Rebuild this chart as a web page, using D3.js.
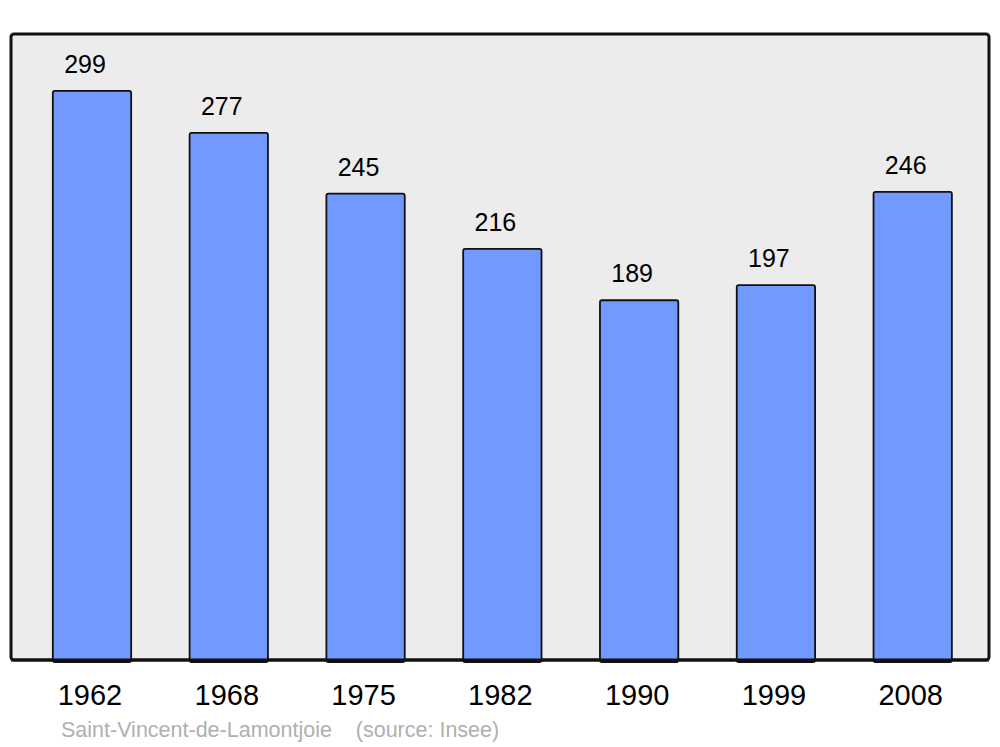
<!DOCTYPE html>
<html>
<head>
<meta charset="utf-8">
<script src="https://cdn.jsdelivr.net/npm/d3@7"></script>
<style>
  body { margin: 0; background: #fff; }
  text { font-family: "Liberation Sans", Arial, sans-serif; }
</style>
</head>
<body>
<svg id="chart" width="1000" height="747"></svg>
<script>
// datos
var annees = ["1962", "1968", "1975", "1982", "1990", "1999", "2008"];
var population = [299, 277, 245, 216, 189, 197, 246];
var legende = "Saint-Vincent-de-Lamontjoie    (source: Insee)";

var svg = d3.select("#chart");

// cadre gris
var cadre = { x0: 11, y0: 34, x1: 989, y1: 660 };

var x = d3.scaleBand()
    .domain(annees)
    .range([23.6, 981.1])
    .paddingInner(0.42)
    .paddingOuter(0.21);

var y = d3.scaleLinear()
    .domain([0, d3.max(population) * 1.1])
    .range([cadre.y1, cadre.y0]);

svg.append("rect")
    .attr("x", cadre.x0)
    .attr("y", cadre.y0)
    .attr("width", cadre.x1 - cadre.x0)
    .attr("height", cadre.y1 - cadre.y0)
    .attr("rx", 3)
    .attr("fill", "#ececec")
    .attr("stroke", "#111")
    .attr("stroke-width", 3);

var datos = annees.map(function (a, i) { return { annee: a, valeur: population[i] }; });

// barres
svg.selectAll(".barre")
    .data(datos)
    .join("rect")
    .attr("class", "barre")
    .attr("x", function (d) { return x(d.annee) + 0.5; })
    .attr("y", function (d) { return y(d.valeur); })
    .attr("width", x.bandwidth() - 1)
    .attr("height", function (d) { return cadre.y1 - y(d.valeur) + 2; })
    .attr("rx", 2)
    .attr("fill", "#7299ff")
    .attr("stroke", "#111")
    .attr("stroke-width", 1.8);

// re-dessiner la ligne du bas du cadre par-dessus
svg.append("line")
    .attr("x1", cadre.x0)
    .attr("x2", cadre.x1)
    .attr("y1", cadre.y1)
    .attr("y2", cadre.y1)
    .attr("stroke", "#111")
    .attr("stroke-width", 3);

// valeurs au-dessus des barres
svg.selectAll(".valeur")
    .data(datos)
    .join("text")
    .attr("class", "valeur")
    .attr("x", function (d) { return x(d.annee) + x.bandwidth() / 2 - 7; })
    .attr("y", function (d) { return y(d.valeur) - 18; })
    .attr("text-anchor", "middle")
    .style("font-size", "25px")
    .attr("fill", "#000")
    .text(function (d) { return d.valeur; });

// annees
svg.selectAll(".annee")
    .data(datos)
    .join("text")
    .attr("class", "annee")
    .attr("x", function (d) { return x(d.annee) + x.bandwidth() / 2 - 2; })
    .attr("y", 705)
    .attr("text-anchor", "middle")
    .style("font-size", "29px")
    .attr("fill", "#000")
    .text(function (d) { return d.annee; });

svg.append("text")
    .attr("x", 61)
    .attr("y", 737)
    .style("font-size", "21.5px")
    .style("white-space", "pre")
    .attr("fill", "#b0b0b0")
    .text(legende);
</script>
</body>
</html>
